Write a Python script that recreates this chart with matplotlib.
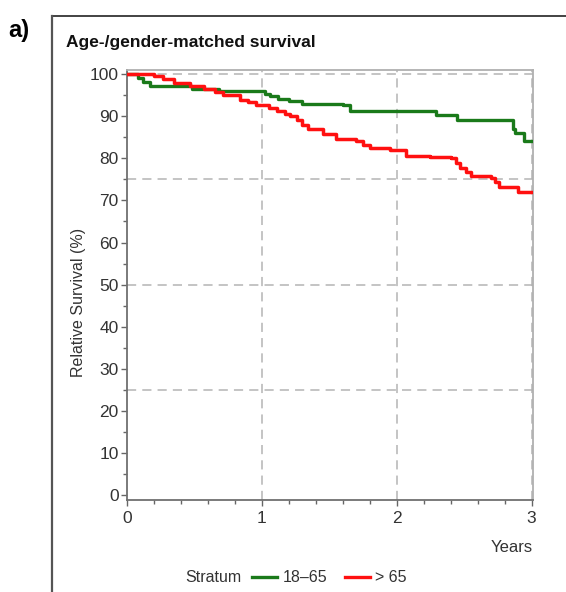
import matplotlib
matplotlib.use("Agg")
import matplotlib.pyplot as plt
from matplotlib.lines import Line2D
from matplotlib.ticker import MultipleLocator

plt.rcParams['font.family'] = ['Liberation Sans', 'DejaVu Sans']

# Stratum 18-65 (green) step curve
green_t = [0.0, 0.08, 0.12, 0.17, 0.48, 0.68, 1.02, 1.06, 1.12, 1.20, 1.30,
           1.60, 1.65, 2.29, 2.45, 2.86, 2.88, 2.94, 3.0]
green_s = [100.0, 99.2, 98.2, 97.2, 96.6, 96.0, 95.4, 94.8, 94.2, 93.6, 93.0,
           92.6, 91.3, 90.4, 89.0, 87.0, 86.0, 84.1, 84.1]

# Stratum > 65 (red) step curve
red_t = [0.0, 0.20, 0.27, 0.35, 0.47, 0.57, 0.65, 0.71, 0.84, 0.90, 0.96,
         1.05, 1.11, 1.17, 1.21, 1.26, 1.30, 1.34, 1.45, 1.55, 1.70, 1.75,
         1.80, 1.95, 2.07, 2.25, 2.40, 2.44, 2.47, 2.51, 2.55, 2.70, 2.73,
         2.76, 2.90, 3.0]
red_s = [100.0, 99.6, 98.8, 97.9, 97.2, 96.4, 95.8, 95.1, 93.9, 93.3, 92.6,
         92.0, 91.3, 90.6, 90.0, 89.0, 88.0, 86.9, 85.7, 84.6, 84.2, 83.2,
         82.4, 82.0, 80.6, 80.4, 80.0, 78.8, 77.8, 76.8, 75.8, 75.4, 74.3,
         73.1, 72.1, 72.1]

x_ticks = [0, 1, 2, 3]
y_ticks = [0, 10, 20, 30, 40, 50, 60, 70, 80, 90, 100]
h_grid = [25, 50, 75, 100]
v_grid = [1, 2, 3]

W, H = 566, 592
fig = plt.figure(figsize=(W / 100, H / 100), dpi=100)

# outer panel frame (cut at right and bottom)
fig.add_artist(Line2D([52 / W, 1.0], [1 - 16 / H, 1 - 16 / H], color='#222222', lw=1.2))
fig.add_artist(Line2D([52 / W, 52 / W], [1 - 16 / H, 0.0], color='#555555', lw=1.6))

fig.text(8 / W, 1 - 30 / H, 'a)', fontsize=17, fontweight='bold', va='center', ha='left')
fig.text(66 / W, 1 - 42 / H, 'Age-/gender-matched survival', fontsize=12.5,
         fontweight='bold', va='center', ha='left', color='#111111')

ax = fig.add_axes([127 / W, 1 - 500 / H, (533 - 127) / W, (500 - 70) / H])
for yg in h_grid:
    ax.axhline(yg, color='#b4b4b4', lw=1.1, dashes=(6, 4), zorder=1)
for xg in v_grid:
    ax.axvline(xg, color='#b4b4b4', lw=1.1, dashes=(6, 4), zorder=1)

ax.step(green_t, green_s, where='post', color='#1a7a1a', lw=2.4, zorder=3)
ax.step(red_t, red_s, where='post', color='#ff1010', lw=2.5, zorder=4)

ax.set_xlim(0, 3.01)
ax.set_ylim(-1.2, 101)
ax.set_xticks(x_ticks)
ax.set_yticks(y_ticks)
ax.xaxis.set_minor_locator(MultipleLocator(0.2))
ax.yaxis.set_minor_locator(MultipleLocator(5))
ax.tick_params(axis='both', which='major', length=4, width=1, color='#666666',
               labelsize=12.5, labelcolor='#333333', pad=2)
ax.tick_params(axis='both', which='minor', length=3, width=1, color='#666666')
ax.tick_params(axis='x', pad=4)
for side in ['left', 'bottom']:
    ax.spines[side].set_color('#707070')
    ax.spines[side].set_linewidth(1.3)
for side in ['top', 'right']:
    ax.spines[side].set_color('#b0b0b0')
    ax.spines[side].set_linewidth(1.3)

fig.text(79 / W, 1 - 302 / H, 'Relative Survival (%)', fontsize=11.5, color='#333333',
         rotation=90, ha='center', va='center')
fig.text(533 / W, 1 - 548 / H, 'Years', fontsize=12, color='#333333', ha='right', va='center')

# legend
ly = 1 - 577 / H
fig.text(185 / W, ly, 'Stratum', fontsize=11.5, color='#333333', ha='left', va='center')
fig.add_artist(Line2D([252 / W, 277 / W], [ly, ly], color='#1a7a1a', lw=2.4))
fig.text(283 / W, ly, '18\u201365', fontsize=11.5, color='#333333', ha='left', va='center')
fig.add_artist(Line2D([345 / W, 370 / W], [ly, ly], color='#ff1010', lw=2.4))
fig.text(375 / W, ly, '> 65', fontsize=11.5, color='#333333', ha='left', va='center')

fig.savefig('out.png', dpi=100)
